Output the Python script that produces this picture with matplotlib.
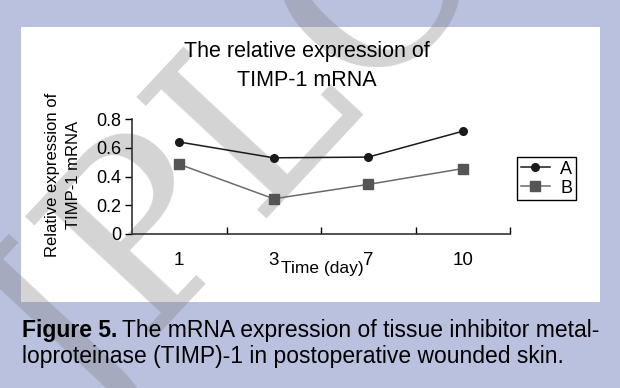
import matplotlib
matplotlib.use("Agg")
import matplotlib.pyplot as plt
from matplotlib.patches import Rectangle
from matplotlib.ticker import FixedLocator

plt.rcParams['font.family'] = ['Liberation Sans', 'DejaVu Sans']

# dados
days = ["1", "3", "7", "10"]
grupo_a = [0.64, 0.53, 0.535, 0.715]
grupo_b = [0.485, 0.245, 0.345, 0.455]
series_names = ["A", "B"]

W, H = 620, 388
fig = plt.figure(figsize=(W / 100, H / 100), dpi=100)
fig.patch.set_facecolor("#B9C1DF")

def fx(px): return px / W
def fy(py): return 1 - py / H

# painel branco
fig.patches.append(Rectangle((fx(21), fy(302)), fx(600) - fx(21), fy(27) - fy(302),
                             transform=fig.transFigure, facecolor="white",
                             edgecolor="none", zorder=0))

# marca d'água (por baixo do gráfico)
fig.text(fx(245), fy(165), "JPLC", fontsize=175, family="DejaVu Serif", rotation=47,
         color="#7a7a7a", alpha=0.32, ha="center", va="center", zorder=1)

ax = fig.add_axes([fx(132), fy(234), fx(510) - fx(132), fy(119) - fy(234)])
ax.set_zorder(5)
ax.patch.set_alpha(0)
x = list(range(len(days)))
ax.plot(x, grupo_a, color="#1a1a1a", lw=1.1, marker="o", ms=5.5, label=series_names[0])
ax.plot(x, grupo_b, color="#6b6b6b", lw=1.1, marker="s", ms=7,
        mfc="#555555", mec="#555555", label=series_names[1])
ax.set_xlim(-0.5, len(days) - 0.5)
ax.set_ylim(0, 0.8)
ax.set_yticks([0, 0.2, 0.4, 0.6, 0.8])
ax.set_yticklabels(["0", "0.2", "0.4", "0.6", "0.8"], fontsize=13)
ax.set_xticks(x)
ax.set_xticklabels(days, fontsize=13.5)
ax.tick_params(axis="x", which="major", length=0, pad=13)
ax.xaxis.set_minor_locator(FixedLocator([i + 0.5 for i in x]))
ax.tick_params(axis="x", which="minor", direction="in", length=5, width=1)
ax.tick_params(axis="y", direction="out", length=5, width=1, pad=3)
for s in ["top", "right"]:
    ax.spines[s].set_visible(False)
for s in ["left", "bottom"]:
    ax.spines[s].set_color("#333333")
    ax.spines[s].set_linewidth(1.2)

fig.text(fx(322), fy(269), "Time (day)", fontsize=12.5, ha="center", va="center", zorder=6)
fig.text(fx(52), fy(175), "Relative expression of", fontsize=12, rotation=90,
         ha="center", va="center", zorder=6)
fig.text(fx(74), fy(175), "TIMP-1 mRNA", fontsize=12, rotation=90,
         ha="center", va="center", zorder=6)
fig.text(fx(307), fy(52), "The relative expression of", fontsize=15.5, ha="center",
         va="center", zorder=6)
fig.text(fx(307), fy(81), "TIMP-1 mRNA", fontsize=15.5, ha="center", va="center", zorder=6)

leg = fig.legend(loc="upper left", bbox_to_anchor=(fx(517), fy(157)), fontsize=13,
                 frameon=True, fancybox=False, edgecolor="black", framealpha=1,
                 borderpad=0.2, handlelength=1.6, handletextpad=0.6,
                 labelspacing=0.12, borderaxespad=0)
leg.get_frame().set_linewidth(1.0)
leg.set_zorder(6)

# legenda da figura
fig.canvas.draw()
r = fig.canvas.get_renderer()
t1 = fig.text(fx(22), fy(330), "Figure 5.", fontsize=16.5, weight="bold", va="center")
bb = t1.get_window_extent(r)
fig.text(bb.x1 / W + fx(5), fy(330), "The mRNA expression of tissue inhibitor metal-",
         fontsize=16.5, va="center")
fig.text(fx(22), fy(356), "loproteinase (TIMP)-1 in postoperative wounded skin.",
         fontsize=16.5, va="center")

fig.savefig("out.png", dpi=100, facecolor=fig.get_facecolor())
